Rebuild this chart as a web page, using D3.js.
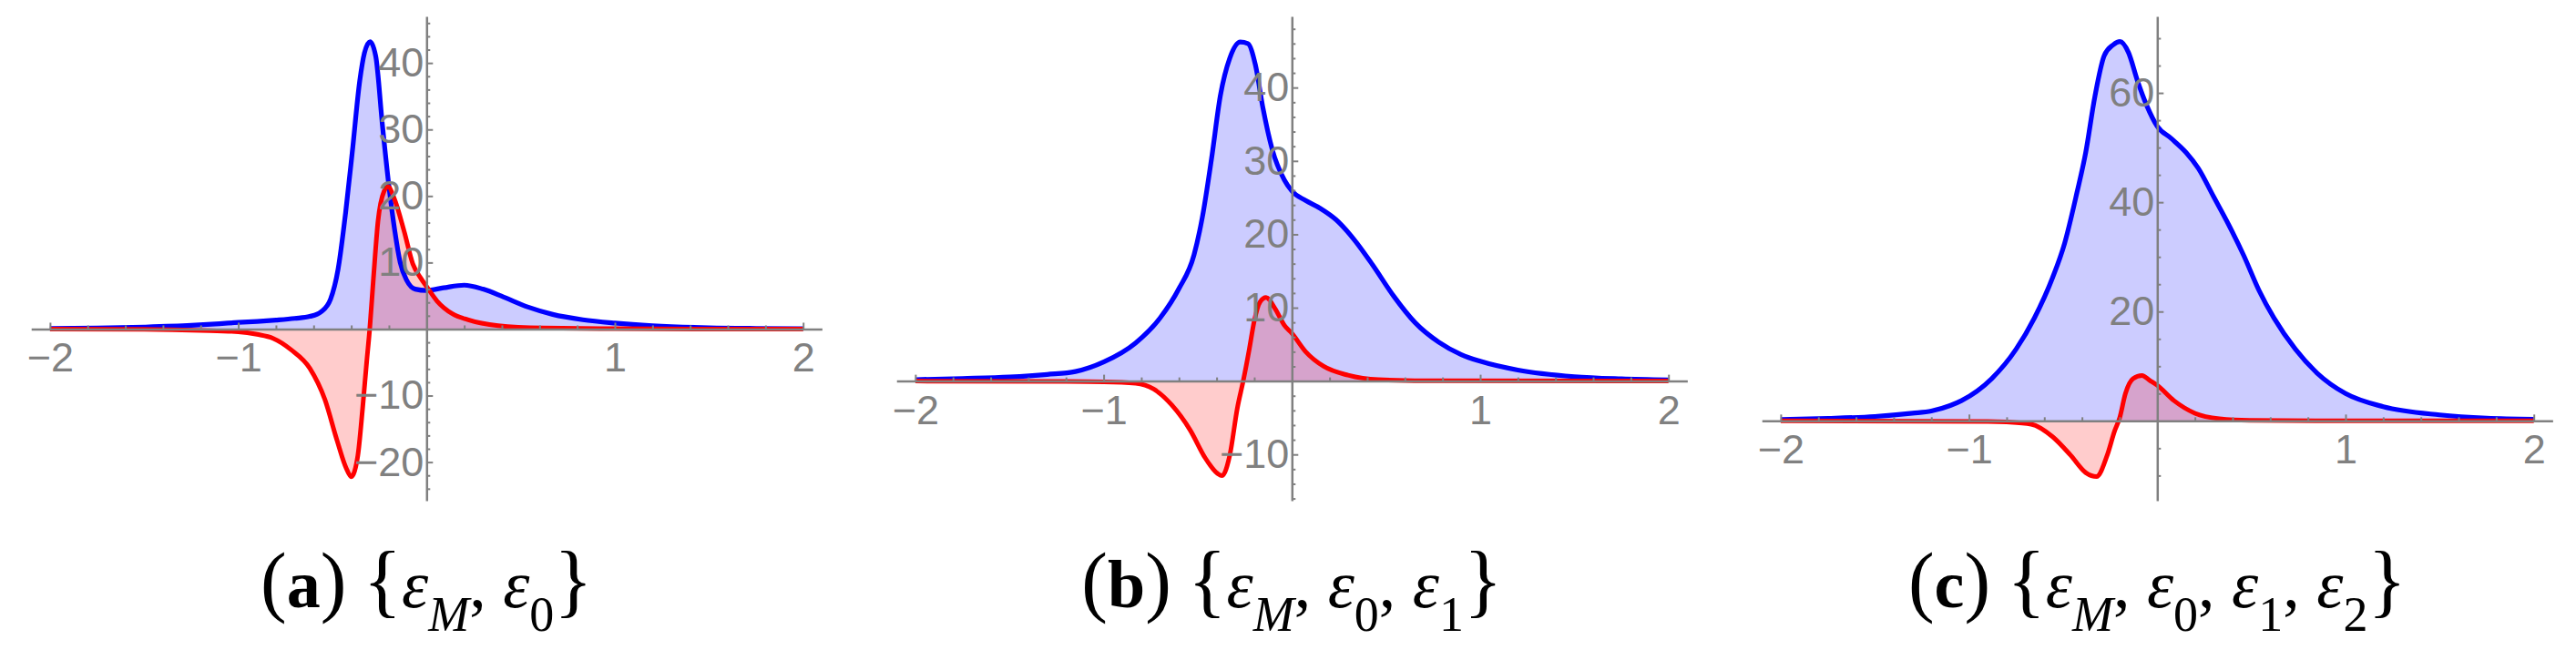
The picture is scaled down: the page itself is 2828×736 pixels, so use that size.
<!DOCTYPE html>
<html>
<head>
<meta charset="utf-8">
<script src="https://cdn.jsdelivr.net/npm/d3@7"></script>
<style>
body { margin: 0; background: #fff; }
</style>
</head>
<body>
<div id="fig"></div>
<script>
// panel (a) {eM, e0}
var xA    = [-2.0, -1.75, -1.5, -1.25, -1.1, -1.0, -0.9, -0.8, -0.7, -0.62, -0.56, -0.51, -0.47, -0.43, -0.395, -0.355, -0.33, -0.30, -0.27, -0.234, -0.20, -0.17, -0.14, -0.105, -0.06, 0.0, 0.09, 0.2, 0.3, 0.41, 0.54, 0.67, 0.83, 1.0, 1.2, 1.5, 1.75, 2.0];
var blueA = [0.08, 0.15, 0.3, 0.55, 0.8, 1.0, 1.15, 1.35, 1.6, 1.9, 2.6, 4.5, 9, 17.5, 26.5, 37.3, 41.5, 43.2, 41, 30.5, 21.5, 15, 10, 7.3, 6.0, 5.8, 6.2, 6.6, 6.0, 4.8, 3.3, 2.2, 1.4, 0.9, 0.5, 0.2, 0.1, 0.05];
var xRedA = [-2.0, -1.5, -1.2, -1.0, -0.9, -0.815, -0.72, -0.62, -0.54, -0.476, -0.427, -0.40, -0.365, -0.34, -0.318, -0.302, -0.282, -0.258, -0.226, -0.205, -0.17, -0.12, -0.073, -0.032, 0.0, 0.056, 0.137, 0.218, 0.38, 0.62, 1.0, 1.5, 2.0];
var redA  = [0, -0.05, -0.2, -0.4, -0.8, -1.4, -3.1, -5.9, -10.6, -16.7, -20.9, -22.2, -19, -12, -4.9, 0, 7.7, 16.2, 20.7, 21.4, 19.5, 14.8, 9.8, 7.7, 6.4, 4.2, 2.3, 1.4, 0.5, 0.15, 0.05, 0, 0];

// panel (b) {eM, e0, e1}
var xB    = [-2.0, -1.75, -1.5, -1.3, -1.15, -1.0, -0.83, -0.7, -0.6, -0.52, -0.476, -0.427, -0.38, -0.33, -0.274, -0.234, -0.194, -0.153, -0.105, -0.04, 0.0, 0.073, 0.153, 0.234, 0.33, 0.427, 0.54, 0.653, 0.78, 0.9, 1.0, 1.2, 1.5, 1.75, 2.0];
var blueB = [0.2, 0.35, 0.55, 0.9, 1.3, 2.6, 5.2, 8.6, 12.6, 17.2, 22.3, 30.3, 38.9, 44, 46.2, 46, 43.1, 37.1, 31.6, 27.4, 25.9, 24.6, 23.5, 22.0, 19.3, 15.9, 11.6, 8.0, 5.3, 3.6, 2.7, 1.5, 0.6, 0.3, 0.15];
var xRedB = [-2.0, -1.2, -1.0, -0.83, -0.734, -0.637, -0.54, -0.46, -0.395, -0.371, -0.33, -0.29, -0.258, -0.226, -0.2, -0.169, -0.137, -0.09, -0.04, 0.0, 0.073, 0.169, 0.298, 0.46, 0.8, 2.0];
var redB  = [0, -0.05, -0.1, -0.3, -1.1, -3.3, -6.7, -10.5, -12.6, -12.9, -10.1, -3.7, 0.1, 4.4, 8.2, 10.8, 11.4, 9.9, 7.6, 6.5, 4.0, 2.0, 0.8, 0.2, 0.03, 0];

// panel (c) {eM, e0, e1, e2}
var xC    = [-2.0, -1.75, -1.5, -1.3, -1.2, -1.1, -1.04, -0.88, -0.75, -0.653, -0.556, -0.492, -0.427, -0.38, -0.331, -0.282, -0.234, -0.198, -0.153, -0.105, -0.056, 0.0, 0.073, 0.153, 0.218, 0.298, 0.379, 0.46, 0.54, 0.62, 0.734, 0.85, 1.0, 1.2, 1.5, 1.75, 2.0];
var blueC = [0.25, 0.45, 0.8, 1.4, 1.8, 2.8, 3.7, 7.7, 13.1, 18.8, 26.2, 32.5, 41.7, 49.1, 59.4, 66.8, 68.8, 69.4, 67.4, 62.2, 57.7, 53.9, 51.7, 49.1, 46.2, 41.1, 35.9, 30.2, 23.9, 18.8, 13.1, 8.7, 5.0, 2.6, 1.1, 0.5, 0.3];
var xRedC = [-2.0, -0.9, -0.8, -0.67, -0.556, -0.46, -0.379, -0.323, -0.266, -0.226, -0.2, -0.169, -0.129, -0.081, -0.04, 0.0, 0.089, 0.2, 0.33, 0.49, 1.0, 2.0];
var redC  = [0, -0.1, -0.2, -0.6, -2.9, -6.3, -9.5, -10.2, -6.3, -1.8, 0.5, 5, 7.7, 8.3, 7.4, 6.5, 3.7, 1.4, 0.4, 0.1, 0, 0];

// tick labels
var xTicks = [-2, -1, 1, 2];
var yTicksA = [-20, -10, 10, 20, 30, 40];
var yTicksB = [-10, 10, 20, 30, 40];
var yTicksC = [20, 40, 60];

// captions
var captionLetters = ["a", "b", "c"];
var captionSubs = [["M", "0"], ["M", "0", "1"], ["M", "0", "1", "2"]];

var width = 2828, height = 736;
var plotTop = 18, plotBottom = 550;
var unitPx = 206.7;
var gray = "#808080";
var fmt = d3.format("d");

var svg = d3.select("#fig").append("svg")
    .attr("width", width)
    .attr("height", height);

var panels = [
    {cx: 468.3, x: xA, blue: blueA, xr: xRedA, red: redA, yDom: [-25.8, 47.0], ticks: yTicksA, minor: 2, major: 10},
    {cx: 1418.3, x: xB, blue: blueB, xr: xRedB, red: redB, yDom: [-16.3, 49.7], ticks: yTicksB, minor: 2, major: 10},
    {cx: 2368.3, x: xC, blue: blueC, xr: xRedC, red: redC, yDom: [-14.6, 74.0], ticks: yTicksC, minor: 5, major: 20}
];

panels.forEach(function(p, i) {
    var x = d3.scaleLinear()
        .domain([-2.1, 2.1])
        .range([p.cx - 2.1 * unitPx, p.cx + 2.1 * unitPx]);
    var y = d3.scaleLinear()
        .domain(p.yDom)
        .range([plotBottom, plotTop]);

    var g = svg.append("g");

    var blueData = p.x.map(function(v, j) { return [v, p.blue[j]]; });
    var redData = p.xr.map(function(v, j) { return [v, p.red[j]]; });

    var area = d3.area()
        .curve(d3.curveMonotoneX)
        .x(function(d) { return x(d[0]); })
        .y0(y(0))
        .y1(function(d) { return y(d[1]); });
    var line = d3.line()
        .curve(d3.curveMonotoneX)
        .x(function(d) { return x(d[0]); })
        .y(function(d) { return y(d[1]); });

    // filled curves, red drawn over blue
    g.append("path").datum(blueData).attr("d", area)
        .attr("fill", "#0000ff").attr("fill-opacity", 0.2);
    g.append("path").datum(redData).attr("d", area)
        .attr("fill", "#ff0000").attr("fill-opacity", 0.2);
    g.append("path").datum(blueData).attr("d", line)
        .attr("fill", "none").attr("stroke", "#0000ff").attr("stroke-width", 5.2)
        .attr("stroke-linejoin", "round");
    g.append("path").datum(redData).attr("d", line)
        .attr("fill", "none").attr("stroke", "#ff0000").attr("stroke-width", 5)
        .attr("stroke-linejoin", "round");

    // minor ticks
    var xMinor = d3.range(-20, 21, 2)
        .filter(function(k) { return k % 10 !== 0; })
        .map(function(k) { return k / 10; });
    var yMinor = d3.range(Math.ceil(p.yDom[0] / p.minor), Math.floor(p.yDom[1] / p.minor) + 1)
        .map(function(k) { return k * p.minor; })
        .filter(function(v) { return v % p.major !== 0; });

    var xm = g.append("g").attr("transform", "translate(0," + y(0) + ")")
        .call(d3.axisBottom(x).tickValues(xMinor).tickSize(-4).tickFormat(""));
    xm.select(".domain").remove();
    var ym = g.append("g").attr("transform", "translate(" + x(0) + ",0)")
        .call(d3.axisLeft(y).tickValues(yMinor).tickSize(-4).tickFormat(""));
    ym.select(".domain").remove();

    // major axes
    var xa = g.append("g").attr("transform", "translate(0," + y(0) + ")")
        .call(d3.axisBottom(x).tickValues(xTicks).tickFormat(fmt)
            .tickSizeInner(-7).tickSizeOuter(0).tickPadding(15));
    var ya = g.append("g").attr("transform", "translate(" + x(0) + ",0)")
        .call(d3.axisLeft(y).tickValues(p.ticks).tickFormat(fmt)
            .tickSizeInner(-7).tickSizeOuter(0).tickPadding(3));

    [xa, ya, xm, ym].forEach(function(a) {
        a.selectAll("line").attr("stroke", gray).attr("stroke-width", 2);
        a.selectAll(".domain").attr("stroke", gray).attr("stroke-width", 2.5);
        a.selectAll("text")
            .attr("fill", gray)
            .style("font-family", "'Liberation Sans', Arial, sans-serif")
            .style("font-size", "45px");
    });

    // caption
    var cap = svg.append("text")
        .attr("x", p.cx)
        .attr("y", 667)
        .attr("text-anchor", "middle")
        .style("font-family", "'Liberation Serif', 'Times New Roman', serif")
        .style("font-size", "74px")
        .attr("fill", "#000");
    cap.append("tspan").style("font-size", "86px").text("(");
    cap.append("tspan").style("font-weight", "bold").text(captionLetters[i]);
    cap.append("tspan").style("font-size", "86px").text(")");
    cap.append("tspan").text(" ");
    cap.append("tspan").style("font-size", "88px").text("{");
    var subs = captionSubs[i];
    subs.forEach(function(s, k) {
        cap.append("tspan").attr("dy", k > 0 ? -26 : 0).text(k > 0 ? ", " : "");
        cap.append("tspan").style("font-style", "italic").text("\u03b5");
        cap.append("tspan")
            .attr("dy", 26)
            .style("font-size", "54px")
            .style("font-style", s === "M" ? "italic" : "normal")
            .text(s);
    });
    cap.append("tspan").attr("dy", -26).style("font-size", "88px").text("}");
});
</script>
</body>
</html>
